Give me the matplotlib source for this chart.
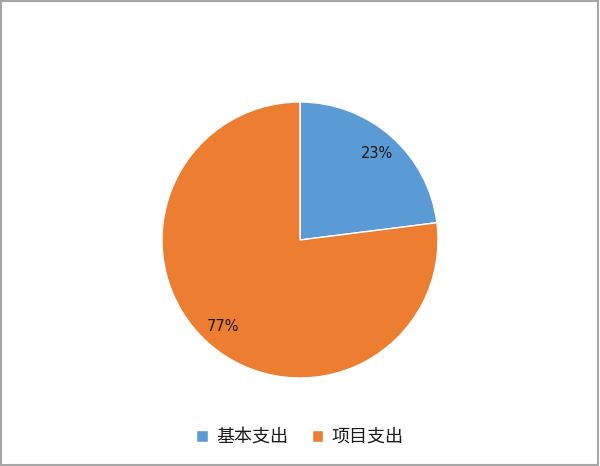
import matplotlib
matplotlib.use('Agg')
from matplotlib import pyplot as plt
from matplotlib.patches import Rectangle

plt.rcParams['font.family'] = ['Noto Sans CJK SC', 'DejaVu Sans']

# 数据
labels = ['基本支出', '项目支出']
values = [23, 77]
colors = ['#5B9BD5', '#ED7D31']

fig = plt.figure(figsize=(6, 4.66), dpi=100)

# 外边框
fig.patches.append(Rectangle((0.002, 0.003), 0.994, 0.994, transform=fig.transFigure,
                             fill=False, edgecolor='#a6a6a6', linewidth=1.5))

ax = fig.add_axes([162 / 600, 88 / 466, 276 / 600, 276 / 466])
wedges, texts, autotexts = ax.pie(values, colors=colors, startangle=90, counterclock=False,
                                  autopct='%1.0f%%', pctdistance=0.84, radius=1,
                                  wedgeprops={'edgecolor': 'white', 'linewidth': 1})
for t in autotexts:
    t.set_fontsize(10.5)
    t.set_family('DejaVu Sans')
    t.set_color('#1a1a1a')
ax.set_xlim(-1, 1)
ax.set_ylim(-1, 1)
ax.set_aspect('equal')
ax.axis('off')

fig.legend(wedges, labels, loc='center', bbox_to_anchor=(0.5, 1 - 437 / 466), ncol=2,
           frameon=False, fontsize=13, handlelength=0.65, handleheight=0.65,
           handletextpad=0.45, columnspacing=1.3, labelcolor='#1a1a1a')

fig.savefig('out.png', dpi=100)
